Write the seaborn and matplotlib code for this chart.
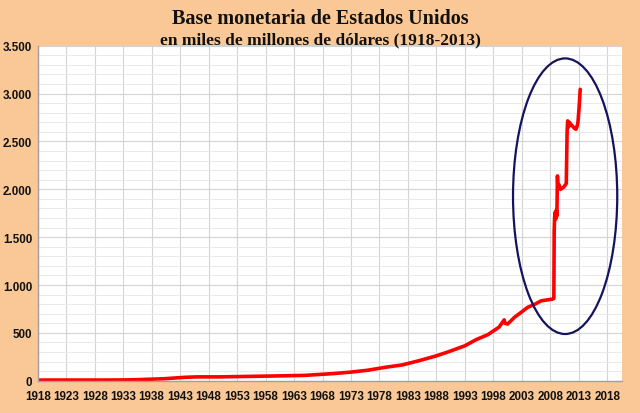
import matplotlib
matplotlib.use("Agg")
import matplotlib.pyplot as plt
import matplotlib.ticker as mticker
from matplotlib.patches import Ellipse
import pandas as pd
import seaborn as sns

# Monetary base, billions of USD
anios = [1918, 1920, 1925, 1930, 1933, 1935, 1938, 1940, 1942, 1944, 1946,
         1950, 1955, 1960, 1965, 1970, 1973, 1976, 1979, 1982, 1985, 1988,
         1990, 1993, 1995, 1997, 1999, 1999.9, 2000.05, 2000.5, 2001.7, 2003,
         2004, 2005.3, 2006.4, 2007.5, 2008.4, 2008.62, 2008.68, 2008.75,
         2008.85, 2008.95, 2009.05, 2009.15, 2009.25, 2009.35, 2009.5, 2009.8,
         2010.3, 2010.8, 2010.95, 2011.05, 2011.2, 2011.35, 2011.6, 2011.9,
         2012.2, 2012.5, 2012.7, 2012.85, 2013.05, 2013.25]
base = [6, 7, 7, 7, 8, 10, 16, 20, 28, 36, 40,
        40, 45, 50, 56, 75, 90, 110, 140, 165, 210, 260,
        300, 365, 430, 480, 560, 636, 600, 592, 662, 720,
        766, 800, 835, 845, 853, 860, 1560, 1700, 1760, 1690, 1780,
        1720, 2140, 2010, 2050, 2000, 2020, 2060, 2610, 2715, 2650,
        2700, 2680, 2660, 2640, 2627, 2660, 2700, 2850, 3045]

x_ticks = list(range(1918, 2019, 5))
y_ticks = list(range(0, 3501, 500))

titulo = "Base monetaria de Estados Unidos"
subtitulo = "en miles de millones de dólares (1918-2013)"

df = pd.DataFrame({"anio": anios, "base": base})

sns.set_theme(style="whitegrid")
fondo = "#fac896"
fig = plt.figure(figsize=(6.4, 4.14), dpi=100, facecolor=fondo)
ax = fig.add_axes([0.059, 0.078, 0.913, 0.809])
ax.set_facecolor("white")

sns.lineplot(data=df, x="anio", y="base", ax=ax, color="#ff0000",
             linewidth=2.6, estimator=None, sort=False)

# highlight ellipse around the QE jump
ax.add_patch(Ellipse((2010.6, 1928), 18.3, 2880, fill=False,
                     edgecolor="#14145e", linewidth=1.6, zorder=5))

ax.set_xlim(1918, 2020.6)
ax.set_ylim(0, 3500)
ax.set_xticks(x_ticks)
ax.set_yticks(y_ticks)
ax.yaxis.set_minor_locator(mticker.MultipleLocator(100))
ax.yaxis.set_major_formatter(mticker.FuncFormatter(
    lambda v, p: f"{int(v):,}".replace(",", ".")))

ax.grid(True, which="major", color="#d4d4d4", linewidth=0.8)
ax.grid(True, which="minor", axis="y", color="#e6e6e6", linewidth=0.6)
ax.set_axisbelow(True)

for s in ["top", "right"]:
    ax.spines[s].set_visible(False)
for s in ["left", "bottom"]:
    ax.spines[s].set_visible(True)
    ax.spines[s].set_color("#a0a0a0")
    ax.spines[s].set_linewidth(1.0)

etiq_font = ["Liberation Sans", "DejaVu Sans"]
ax.tick_params(axis="both", which="both", length=0, colors="#111111")
ax.tick_params(axis="x", pad=7)
ax.tick_params(axis="y", pad=4)
for lab in ax.get_xticklabels() + ax.get_yticklabels():
    lab.set_fontfamily(etiq_font)
    lab.set_fontweight("bold")
    lab.set_fontsize(8.4)

ax.set_xlabel("")
ax.set_ylabel("")

serif = ["Liberation Serif", "DejaVu Serif"]
fig.text(0.5, 0.953, titulo, ha="center", va="center", fontsize=14.5,
         fontweight="bold", family=serif, color="#111111")
fig.text(0.5, 0.903, subtitulo, ha="center", va="center", fontsize=12.5,
         fontweight="bold", family=serif, color="#111111")

fig.savefig("out.png", dpi=100, facecolor=fondo)
